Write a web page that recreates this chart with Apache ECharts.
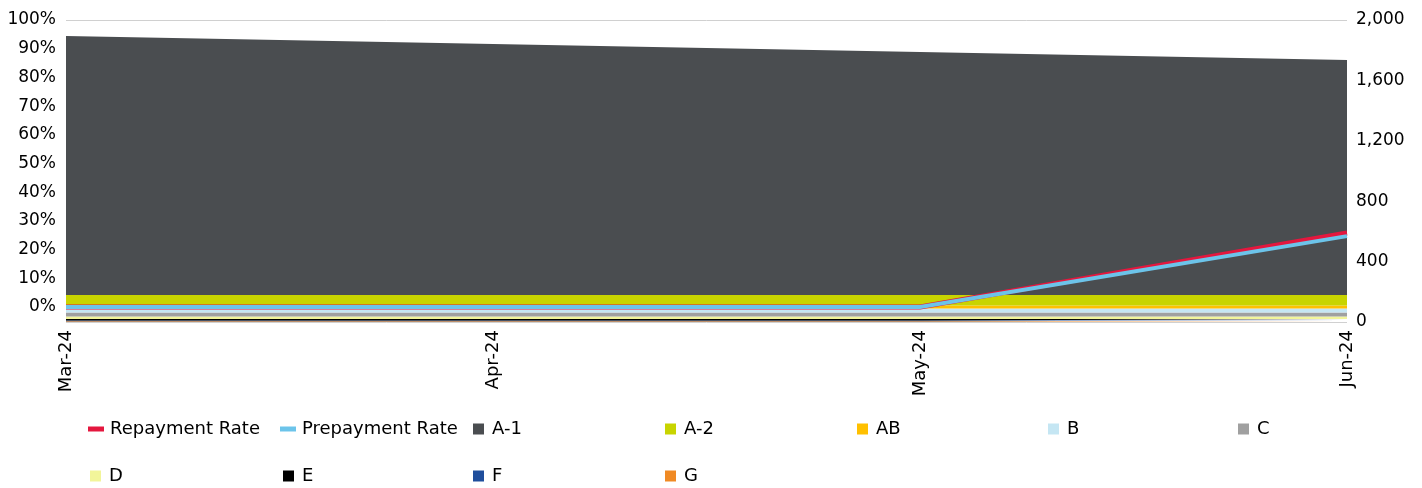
<!DOCTYPE html>
<html><head><meta charset="utf-8">
<script src="https://cdn.jsdelivr.net/npm/echarts@6/dist/echarts.min.js"></script>
<style>html,body{margin:0;padding:0;background:#fff}#c{width:1422px;height:488px}</style>
</head><body><div id="c"></div>
<script>
// ---- data ----
const categories = ['Mar-24', 'Apr-24', 'May-24', 'Jun-24'];
const repaymentRate = [0, 0, 0, 25.8];
const prepaymentRate = [0, 0, 0, 24.7];
const classA1 = [1715, 1662, 1610, 1557];
const classA2 = [69, 69, 68, 68];
const classAB = [20, 20, 20, 20];
const classB = [27, 27, 27, 27];
const classC = [27, 27, 27, 27];
const classD = [16, 16, 16, 16];
const classE = [10, 10, 10, 10];
const classF = [5, 5, 5, 5];
const classG = [5, 5, 5, 5];
const leftTickValues = [0, 10, 20, 30, 40, 50, 60, 70, 80, 90, 100];
const rightMax = 2000;
const rightInterval = 400;

// ---- style ----
const FONT = 'DejaVu Sans';
const colors = {
  'Repayment Rate': '#E4173E', 'Prepayment Rate': '#6CC4EA',
  'A-1': '#4A4D50', 'A-2': '#C8D400', 'AB': '#FFC000', 'B': '#C5E6F3',
  'C': '#A0A0A0', 'D': '#F2F59A', 'E': '#000000', 'F': '#1F4E9C', 'G': '#F08A24'
};
const classes = [
  ['G', classG], ['F', classF], ['E', classE], ['D', classD], ['C', classC],
  ['B', classB], ['AB', classAB], ['A-2', classA2], ['A-1', classA1]
];
const legendPos = [
  ['Repayment Rate', 88, 0], ['Prepayment Rate', 280, 0], ['A-1', 473, 0], ['A-2', 665, 0],
  ['AB', 857, 0], ['B', 1048, 0], ['C', 1238, 0],
  ['D', 90, 1], ['E', 283, 1], ['F', 473, 1], ['G', 665, 1]
];

const series = classes.map(([name, vals]) => ({
  name, type: 'line', yAxisIndex: 1, stack: 'bal', data: vals,
  symbol: 'none', lineStyle: { width: 0 }, areaStyle: { color: colors[name], opacity: 1 },
  itemStyle: { color: colors[name] }, z: 2
}));
series.push({
  name: 'Repayment Rate', type: 'line', yAxisIndex: 0, data: repaymentRate, symbol: 'none',
  lineStyle: { width: 5, color: colors['Repayment Rate'] }, itemStyle: { color: colors['Repayment Rate'] }, z: 5
});
series.push({
  name: 'Prepayment Rate', type: 'line', yAxisIndex: 0, data: prepaymentRate, symbol: 'none',
  lineStyle: { width: 4, color: colors['Prepayment Rate'] }, itemStyle: { color: colors['Prepayment Rate'] }, z: 6
});

const legends = legendPos.map(([name, x, row]) => {
  const isLine = name.indexOf('Rate') >= 0;
  return {
    data: [{ name, icon: 'rect' }], left: x, top: row === 0 ? 420 : 467, padding: 0,
    itemWidth: isLine ? 16 : 11, itemHeight: isLine ? 5 : 11, itemGap: 0,
    textStyle: { fontFamily: FONT, fontSize: 18, color: '#000', padding: [0, 0, 0, isLine ? 1 : 3] },
    selectedMode: false
  };
});

const chart = echarts.init(document.getElementById('c'), null, { renderer: 'canvas' });
chart.setOption({
  backgroundColor: '#fff',
  animation: false,
  textStyle: { fontFamily: FONT },
  grid: { left: 66, right: 75, top: 20, height: 302, containLabel: false },
  legend: legends,
  xAxis: {
    type: 'category', data: categories, boundaryGap: false,
    axisLine: { show: false }, axisTick: { show: false },
    axisLabel: { rotate: 90, fontFamily: FONT, fontSize: 18, color: '#000', margin: 8 }
  },
  yAxis: [
    {
      type: 'value', min: -15 / 287 * 100, max: 100, position: 'left',
      axisLine: { show: false }, axisTick: { show: false }, splitLine: { show: false },
      axisLabel: { customValues: leftTickValues, formatter: v => Math.round(v) + '%', fontFamily: FONT, fontSize: 17, color: '#000', margin: 10 }
    },
    {
      type: 'value', min: 0, max: rightMax, interval: rightInterval, position: 'right',
      axisLine: { show: false }, axisTick: { show: false },
      splitLine: { show: true, lineStyle: { color: '#D0D0D0', width: 1 } },
      axisLabel: { formatter: v => v.toLocaleString('en-US'), fontFamily: FONT, fontSize: 17, color: '#000', margin: 9 }
    }
  ],
  series
});
</script></body></html>
